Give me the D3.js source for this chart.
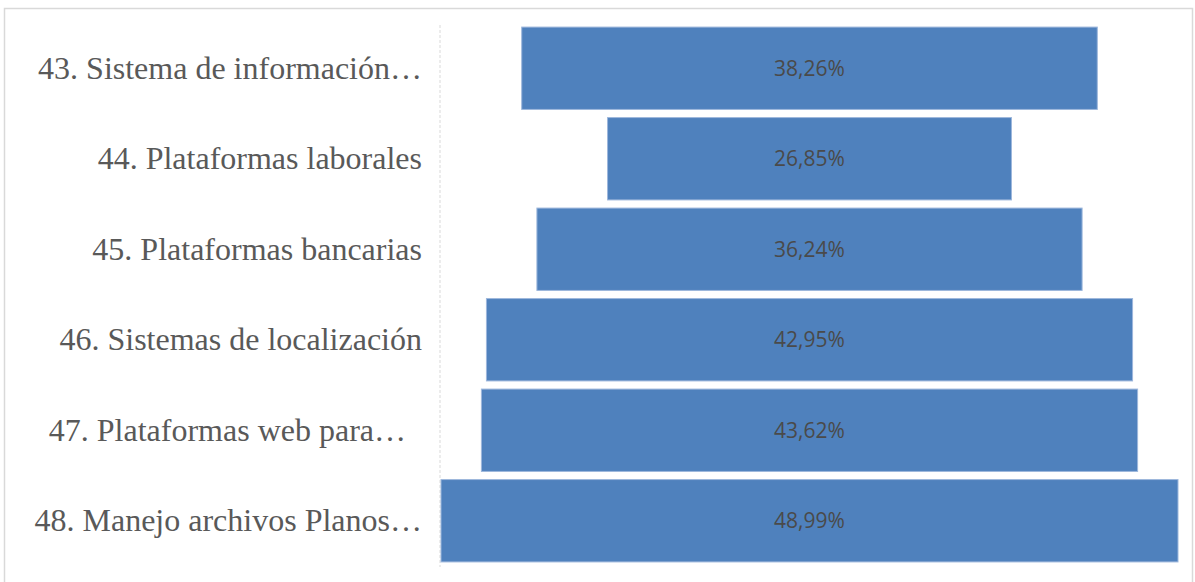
<!DOCTYPE html>
<html>
<head>
<meta charset="utf-8">
<script src="https://cdn.jsdelivr.net/npm/d3@7"></script>
<style>
  html, body { margin: 0; padding: 0; background: #fff; }
  svg { display: block; }
  .cat { font-family: "Liberation Serif", "Times New Roman", serif; font-size: 32px; fill: #595959; white-space: pre; }
  .val { font-family: "Open Sans", sans-serif; font-size: 21px; fill: #4a4a4a; }
</style>
</head>
<body>
<svg id="chart" width="1195" height="582"></svg>
<script>
const categories = [
  "43. Sistema de información…",
  "44. Plataformas laborales",
  "45. Plataformas bancarias",
  "46. Sistemas de localización",
  "47. Plataformas web para…\u00a0\u00a0",
  "48. Manejo archivos Planos…"
];
const values = [38.26, 26.85, 36.24, 42.95, 43.62, 48.99];
const valueLabels = ["38,26%", "26,85%", "36,24%", "42,95%", "43,62%", "48,99%"];

const svg = d3.select("#chart");

// outer frame
svg.append("rect")
  .attr("x", 4.5).attr("y", 8.5)
  .attr("width", 1188).attr("height", 600)
  .attr("fill", "#fff")
  .attr("stroke", "#d9d9d9").attr("stroke-width", 1.5);

const plotLeft = 441, plotRight = 1178;
const centerX = (plotLeft + plotRight) / 2;

const y = d3.scaleBand()
  .domain(categories)
  .range([23, 566])
  .paddingInner(0.09)
  .paddingOuter(0.045);

const w = d3.scaleLinear()
  .domain([0, d3.max(values)])
  .range([0, plotRight - plotLeft]);

const data = categories.map((c, i) => ({ c, v: values[i], l: valueLabels[i] }));

// category axis
const yAxis = d3.axisLeft(y).tickSize(0).tickPadding(18);
const gAxis = svg.append("g")
  .attr("transform", `translate(${440},0)`)
  .call(yAxis)
  .attr("font-family", null)
  .attr("font-size", null);
gAxis.select(".domain")
  .attr("d", "M0,25V567")
  .attr("stroke", "#d9d9d9")
  .attr("stroke-dasharray", "3,2")
  .attr("stroke-width", 1);
gAxis.selectAll(".tick text")
  .attr("class", "cat")
  .attr("fill", null)
  .attr("dy", "0.33em");

// bars
svg.append("g").selectAll("rect")
  .data(data)
  .join("rect")
  .attr("x", d => centerX - w(d.v) / 2)
  .attr("y", d => y(d.c))
  .attr("width", d => w(d.v))
  .attr("height", y.bandwidth())
  .attr("fill", "#4f81bd")
  .attr("stroke", "#9db7dc")
  .attr("stroke-width", 1);

// value labels
svg.append("g").selectAll("text")
  .data(data)
  .join("text")
  .attr("class", "val")
  .attr("x", centerX)
  .attr("y", d => y(d.c) + y.bandwidth() / 2)
  .attr("dy", "0.35em")
  .attr("text-anchor", "middle")
  .text(d => d.l);
</script>
</body>
</html>
